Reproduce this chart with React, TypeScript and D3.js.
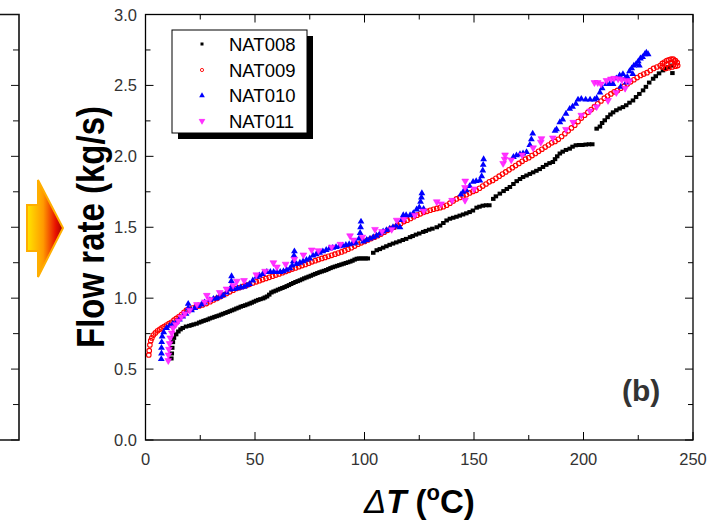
import React from 'react';
import * as d3 from 'd3';

// values: [ΔT (°C), flow rate (kg/s)]
const NAT008: [number, number][] = [
  [11.8, 0.575], [12, 0.61], [12.2, 0.65], [12.5, 0.69], [13, 0.72], [14, 0.745], [15, 0.765], [16, 0.78],
  [17, 0.79], [18.5, 0.8], [20, 0.805], [21, 0.81], [22, 0.815], [23.3, 0.82], [24.5, 0.828], [25.5, 0.834],
  [26.5, 0.84], [27.5, 0.845], [28.5, 0.85], [29.4, 0.857], [30.5, 0.862], [31.5, 0.868], [32.5, 0.873],
  [33.5, 0.878], [34.5, 0.884], [35.4, 0.89], [36.5, 0.896], [37.5, 0.902], [38.5, 0.908], [39.5, 0.914],
  [40.5, 0.92], [41.5, 0.927], [42.5, 0.933], [43.5, 0.94], [44.5, 0.945], [45.5, 0.95], [46.5, 0.956],
  [47.6, 0.962], [48.5, 0.968], [49.5, 0.975], [50.5, 0.982], [51.5, 0.988], [52.5, 0.993], [53.7, 0.998],
  [54.5, 1.005], [55.5, 1.012], [56.5, 1.025], [57.5, 1.04], [58.5, 1.047], [59.5, 1.053], [60.5, 1.06],
  [61.5, 1.066], [62.5, 1.072], [63.5, 1.078], [64.5, 1.085], [65.5, 1.092], [66.5, 1.1], [67.5, 1.107],
  [68.5, 1.114], [69.5, 1.12], [70.5, 1.126], [71.5, 1.133], [72.5, 1.14], [73.5, 1.146], [74.5, 1.152],
  [75.5, 1.158], [76.5, 1.165], [77.5, 1.171], [78.5, 1.177], [79.5, 1.183], [80.5, 1.188], [81.5, 1.193],
  [82.5, 1.198], [83.5, 1.205], [84.5, 1.212], [85.5, 1.218], [86.5, 1.223], [87.5, 1.228], [88.5, 1.233],
  [89.5, 1.238], [90.5, 1.243], [91.5, 1.248], [92.5, 1.253], [93.5, 1.258], [94.5, 1.264], [95.5, 1.272],
  [96.5, 1.278], [97.5, 1.28], [98.5, 1.28], [99.5, 1.28], [100.5, 1.28], [101.5, 1.28], [104, 1.32],
  [105.6, 1.338], [107, 1.346], [108.5, 1.356], [110, 1.366], [111.5, 1.376], [113, 1.385], [114.5, 1.393],
  [116, 1.401], [117.5, 1.41], [119, 1.418], [120.8, 1.43], [122, 1.438], [123.5, 1.448], [125, 1.456],
  [126.8, 1.467], [128, 1.474], [129.5, 1.483], [131, 1.49], [133, 1.5], [134.5, 1.512], [136, 1.53],
  [137.5, 1.548], [139, 1.56], [140.5, 1.567], [142, 1.574], [143.5, 1.582], [145, 1.59], [146.5, 1.598],
  [148, 1.607], [149.5, 1.618], [151.2, 1.638], [152.5, 1.645], [154, 1.652], [155.5, 1.655], [157, 1.655],
  [158.8, 1.7], [160, 1.718], [161.8, 1.737], [163.5, 1.755], [165, 1.77], [166.4, 1.784], [168, 1.805],
  [169.5, 1.825], [171, 1.84], [172.4, 1.854], [174, 1.865], [175.5, 1.876], [177, 1.887], [178.5, 1.898],
  [180, 1.91], [181.5, 1.925], [183, 1.94], [184.5, 1.952], [186, 1.96], [187, 1.98], [188, 2.0], [189.2, 2.02],
  [190.5, 2.033], [192, 2.045], [193.7, 2.054], [195, 2.068], [196.5, 2.078], [198, 2.08], [199.5, 2.08],
  [201, 2.083], [202.5, 2.085], [204, 2.085], [206, 2.195], [207.5, 2.21], [208.5, 2.235], [209.7, 2.254],
  [211, 2.276], [212.3, 2.295], [213.5, 2.31], [215, 2.325], [216.5, 2.337], [218, 2.347], [219.5, 2.36],
  [221, 2.378], [222.6, 2.394], [224, 2.418], [225.5, 2.44], [227.2, 2.465], [228.5, 2.49], [230, 2.52],
  [231.8, 2.547], [233, 2.565], [234.5, 2.585], [236.3, 2.606], [237.5, 2.618], [238.8, 2.63], [240.1, 2.64],
  [240.6, 2.587],
];

const NAT009: [number, number][] = [
  [1.5, 0.6], [1.7, 0.63], [2, 0.67], [2.4, 0.7], [2.9, 0.72], [3.6, 0.74], [4.5, 0.755], [5.5, 0.77],
  [6.5, 0.78], [7.5, 0.79], [8.5, 0.8], [9.6, 0.81], [10.7, 0.82], [11.8, 0.83], [13, 0.845], [14.1, 0.857],
  [15.3, 0.87], [16.5, 0.885], [17.6, 0.9], [18.7, 0.915], [20, 0.922], [21.5, 0.93], [23, 0.938],
  [24.5, 0.945], [26, 0.952], [27.8, 0.962], [29.5, 0.975], [31, 0.987], [32.5, 0.998], [34, 1.01],
  [35.5, 1.022], [37, 1.033], [38.5, 1.045], [40, 1.056], [41.5, 1.068], [43, 1.075], [44.5, 1.083],
  [46, 1.09], [47.5, 1.098], [49, 1.107], [50.6, 1.115], [52, 1.123], [53.5, 1.131], [55, 1.139],
  [56.5, 1.147], [58, 1.155], [59.5, 1.163], [61, 1.171], [62.5, 1.18], [64, 1.188], [65.5, 1.196],
  [67, 1.205], [68.5, 1.213], [70, 1.222], [71.5, 1.23], [73, 1.238], [74.5, 1.247], [76, 1.256],
  [77.5, 1.264], [79, 1.272], [80.5, 1.28], [82, 1.287], [83.5, 1.295], [85, 1.302], [86.5, 1.31],
  [88, 1.318], [89.5, 1.326], [91, 1.335], [92.5, 1.345], [94, 1.356], [95.5, 1.367], [97, 1.38],
  [98.5, 1.39], [100, 1.4], [101.5, 1.41], [103, 1.42], [104.5, 1.43], [106, 1.44], [107.5, 1.452],
  [109, 1.465], [110.5, 1.478], [112, 1.49], [113.5, 1.5], [115, 1.513], [116.5, 1.526], [118, 1.54],
  [119.5, 1.55], [121, 1.562], [122.5, 1.574], [124, 1.585], [125.5, 1.595], [127, 1.605], [128.5, 1.612],
  [130, 1.62], [131.5, 1.627], [133, 1.633], [134.5, 1.638], [136, 1.645], [137.5, 1.655], [139, 1.67],
  [140.5, 1.685], [142, 1.7], [143.5, 1.71], [145, 1.72], [146.5, 1.73], [148, 1.742], [149.5, 1.752],
  [151, 1.76], [152.5, 1.775], [154, 1.79], [155.5, 1.805], [157, 1.82], [158.5, 1.83], [160, 1.845],
  [161.5, 1.86], [163, 1.875], [164.5, 1.89], [166, 1.905], [167.5, 1.92], [169, 1.935], [170.5, 1.95],
  [172, 1.965], [173.5, 1.98], [175, 1.99], [176.5, 2.005], [178, 2.02], [179.5, 2.035], [181, 2.05],
  [182.5, 2.065], [184, 2.08], [185.5, 2.095], [187, 2.105], [188.5, 2.12], [190, 2.14], [191.5, 2.16],
  [193, 2.18], [194.5, 2.2], [196, 2.22], [197.5, 2.245], [199, 2.27], [200.5, 2.29], [202, 2.31],
  [203.5, 2.33], [205, 2.35], [206.5, 2.37], [208, 2.39], [209.5, 2.41], [211, 2.425], [212.5, 2.44],
  [214, 2.455], [215.5, 2.465], [217, 2.48], [218.5, 2.495], [220, 2.51], [221.5, 2.525], [223, 2.54],
  [224.5, 2.555], [226, 2.57], [227.5, 2.58], [229, 2.59], [230.5, 2.605], [232, 2.62], [233.5, 2.63],
  [235, 2.64], [236, 2.655], [237, 2.665], [238, 2.675], [239, 2.68], [240, 2.685], [241, 2.685],
  [242, 2.675], [242.8, 2.66], [243, 2.64], [242, 2.635], [240.5, 2.63], [239, 2.625], [237.5, 2.62],
  [236, 2.63], [238, 2.65], [240, 2.66], [241.5, 2.67],
];

const NAT010: [number, number][] = [
  [7.2, 0.57], [7.3, 0.61], [7.3, 0.65], [7.4, 0.69], [7.6, 0.73], [8.3, 0.76], [9.6, 0.79], [11, 0.805],
  [12.5, 0.82], [14.1, 0.833], [15.5, 0.85], [17, 0.87], [18.5, 0.89], [19.5, 0.93], [19.5, 0.96],
  [21, 0.915], [22.5, 0.93], [24, 0.945], [25.5, 0.955], [27, 0.97], [29.4, 0.986], [31, 0.995], [32.5, 1.0],
  [34, 1.01], [35.5, 1.02], [37, 1.04], [38.5, 1.06], [39.2, 1.08], [39.2, 1.12], [39.3, 1.155],
  [40.5, 1.065], [42, 1.07], [43.5, 1.075], [45, 1.08], [46.3, 1.09], [47.5, 1.1], [49, 1.125], [50.8, 1.15],
  [52, 1.16], [53.5, 1.17], [55.4, 1.185], [57, 1.185], [58.5, 1.185], [60, 1.185], [61.5, 1.185],
  [63, 1.19], [64.5, 1.2], [66, 1.21], [67, 1.23], [67.5, 1.26], [67.8, 1.3], [68, 1.33], [69, 1.24],
  [70.5, 1.25], [72, 1.26], [73.5, 1.27], [75, 1.28], [76.5, 1.3], [78, 1.31], [79.5, 1.32], [81, 1.33],
  [82.5, 1.34], [84, 1.35], [85.5, 1.355], [87, 1.36], [88.5, 1.365], [90, 1.37], [91.5, 1.375], [93, 1.38],
  [94.5, 1.385], [96, 1.39], [97.5, 1.42], [98, 1.46], [98.2, 1.5], [98.4, 1.54], [99.5, 1.4], [101, 1.41],
  [102.5, 1.42], [104, 1.43], [105.5, 1.44], [107, 1.455], [108.5, 1.47], [110, 1.48], [111.5, 1.49],
  [113, 1.5], [114.5, 1.51], [116.2, 1.5], [117, 1.55], [117.7, 1.585], [119, 1.585], [120.8, 1.585],
  [122.3, 1.6], [123.8, 1.625], [125, 1.64], [125.6, 1.68], [126, 1.71], [126.2, 1.74], [127, 1.63],
  [144, 1.73], [145.1, 1.75], [146.5, 1.76], [148, 1.79], [149.6, 1.82], [151, 1.825], [152.7, 1.83],
  [153.5, 1.86], [154, 1.9], [154.2, 1.94], [154.4, 1.98], [168, 1.995], [169.4, 2.007], [171, 2.015],
  [172.4, 2.02], [174, 2.03], [175.5, 2.08], [176.2, 2.12], [176.8, 2.16], [187, 2.18], [187.7, 2.19],
  [189.2, 2.24], [190.5, 2.26], [192, 2.3], [193.7, 2.335], [195, 2.35], [196.5, 2.37], [197.5, 2.4],
  [199, 2.405], [201, 2.4], [203, 2.4], [205, 2.4], [206, 2.41], [207.5, 2.45], [208.5, 2.48], [210.5, 2.51],
  [212, 2.51], [213.5, 2.51], [215, 2.55], [216.5, 2.57], [218, 2.58], [219, 2.55], [220, 2.56], [221, 2.6],
  [222, 2.62], [223, 2.64], [224, 2.65], [225, 2.67], [226, 2.69], [227, 2.7], [228, 2.72], [228.7, 2.73],
  [229.5, 2.72], [217, 2.49], [219.5, 2.52], [222.5, 2.58], [225.5, 2.64],
];

const NAT011: [number, number][] = [
  [10.4, 0.56], [10.5, 0.6], [10.7, 0.64], [11, 0.68], [11.3, 0.72], [12, 0.755], [12.6, 0.79],
  [13.8, 0.815], [15, 0.84], [16.4, 0.868], [18, 0.89], [20.2, 0.915], [23.5, 0.955], [27.1, 0.974],
  [28, 1.02], [29.5, 0.99], [33.9, 1.04], [37, 1.065], [40, 1.09], [41.7, 1.12], [45, 1.125], [50.6, 1.165],
  [54.6, 1.19], [58.4, 1.25], [60, 1.22], [64, 1.24], [68, 1.275], [72.1, 1.305], [75.9, 1.34], [79, 1.335],
  [85, 1.36], [89, 1.38], [93.4, 1.44], [95, 1.41], [99, 1.43], [104.8, 1.485], [108, 1.47], [112.4, 1.485],
  [114.7, 1.55], [118, 1.555], [123, 1.585], [127, 1.615], [133, 1.68], [135, 1.665], [140, 1.69],
  [145.9, 1.69], [145.9, 1.78], [146, 1.826], [150, 1.77], [163.3, 1.95], [164, 1.98], [164.2, 2.01],
  [167, 1.975], [172, 2.01], [177, 2.06], [180.5, 2.1], [180.8, 2.125], [186, 2.13], [192, 2.19],
  [195.3, 2.24], [199, 2.29], [203, 2.32], [206, 2.35], [211.2, 2.394], [215, 2.45], [219, 2.48], [205, 2.52],
  [206.5, 2.52], [208, 2.51], [210.5, 2.535], [212.5, 2.545], [214, 2.55], [215.8, 2.547], [217.5, 2.54],
  [219.6, 2.535], [221, 2.53],
];

const X_TICKS = [0, 50, 100, 150, 200, 250];
const X_MINOR = [25, 75, 125, 175, 225];
const Y_TICKS = [0, 0.5, 1, 1.5, 2, 2.5, 3];
const Y_MINOR = [0.25, 0.75, 1.25, 1.75, 2.25, 2.75];
const SERIES_NAMES = ['NAT008', 'NAT009', 'NAT010', 'NAT011'];

const FONT = '"Liberation Sans", Arial, Helvetica, sans-serif';
const W = 723, H = 520;
const L = 145.5, R = 693, T = 14.5, B = 440;

const x = d3.scaleLinear().domain([0, 250]).range([L, R]);
const y = d3.scaleLinear().domain([0, 3]).range([B, T]);

const triUp = d3.symbol().type(d3.symbolTriangle).size(20)() as string;
const triSmall = d3.symbol().type(d3.symbolTriangle).size(14)() as string;

// marker for one point
const Marker = ({ i, cx, cy, small = false }: { i: number; cx: number; cy: number; small?: boolean }) => {
  if (i === 0) {
    const w = small ? 3 : 4.5, h = small ? 3 : 4;
    return <rect x={cx - w / 2} y={cy - h / 2} width={w} height={h} fill="#000" />;
  }
  if (i === 1) {
    return <circle cx={cx} cy={cy} r={small ? 1.6 : 2.3} fill="none" stroke="#ff0000" strokeWidth={small ? 0.9 : 1.1} />;
  }
  const p = small ? triSmall : triUp;
  if (i === 2) return <path d={p} transform={`translate(${cx},${cy})`} fill="#0000ff" />;
  return <path d={p} transform={`translate(${cx},${cy}) rotate(180)`} fill="#ff33ff" stroke="#ff00ff" strokeWidth={0.5} />;
};

export default function App() {
  const series = [NAT008, NAT009, NAT010, NAT011];
  const legendRows = [44, 70, 95.5, 121];

  return (
    <svg width={W} height={H} style={{ position: 'absolute', left: 0, top: 0, background: '#fff' }} fontFamily={FONT}>
      <defs>
        <linearGradient id="arrowGrad" x1="0" x2="1" y1="0" y2="0">
          <stop offset="0%" stopColor="#ffe600" />
          <stop offset="45%" stopColor="#ff9a00" />
          <stop offset="80%" stopColor="#e81000" />
          <stop offset="100%" stopColor="#a00000" />
        </linearGradient>
        <clipPath id="plotClip">
          <rect x={L} y={T} width={R - L} height={B - T} />
        </clipPath>
      </defs>
      <rect width={W} height={H} fill="#fff" />

      {/* piece of the neighbouring panel */}
      <g stroke="#111" strokeWidth={1.6} fill="none">
        <path d={`M0,${T}H19V${B}H0`} />
        {Y_TICKS.map(v => <line key={'lp' + v} x1={19} x2={11} y1={y(v)} y2={y(v)} strokeWidth={1} />)}
        {Y_MINOR.map(v => <line key={'lm' + v} x1={19} x2={13} y1={y(v)} y2={y(v)} strokeWidth={1} />)}
      </g>

      {/* arrow */}
      <polygon
        points="27,205 38,205 38,180 63,228 38,277 38,251 27,251"
        fill="url(#arrowGrad)"
        stroke="#ffae00"
        strokeWidth={2}
        strokeLinejoin="miter"
      />

      {/* data */}
      <g clipPath="url(#plotClip)">
        {series.map((data, i) => (
          <g key={SERIES_NAMES[i]}>
            {data.map(([a, b], j) => <Marker key={j} i={i} cx={x(a)} cy={y(b)} />)}
          </g>
        ))}
      </g>

      {/* frame and ticks */}
      <rect x={L} y={T} width={R - L} height={B - T} fill="none" stroke="#000" strokeWidth={1.3} />
      <g stroke="#000" strokeWidth={1}>
        {X_TICKS.map(v => (
          <g key={'xt' + v}>
            <line x1={x(v)} x2={x(v)} y1={B} y2={B - 8} />
            <line x1={x(v)} x2={x(v)} y1={T} y2={T + 8} />
          </g>
        ))}
        {X_MINOR.map(v => (
          <g key={'xm' + v}>
            <line x1={x(v)} x2={x(v)} y1={B} y2={B - 5} />
            <line x1={x(v)} x2={x(v)} y1={T} y2={T + 5} />
          </g>
        ))}
        {Y_TICKS.map(v => (
          <g key={'yt' + v}>
            <line x1={L} x2={L + 8} y1={y(v)} y2={y(v)} />
            <line x1={R} x2={R - 8} y1={y(v)} y2={y(v)} />
          </g>
        ))}
        {Y_MINOR.map(v => (
          <g key={'ym' + v}>
            <line x1={L} x2={L + 5} y1={y(v)} y2={y(v)} />
            <line x1={R} x2={R - 5} y1={y(v)} y2={y(v)} />
          </g>
        ))}
      </g>

      {/* tick labels */}
      <g fill="#333" fontSize={16.5}>
        {X_TICKS.map(v => (
          <text key={'xl' + v} x={x(v)} y={465} textAnchor="middle">{v}</text>
        ))}
        {Y_TICKS.map(v => (
          <text key={'yl' + v} x={137} y={y(v)} textAnchor="end" dominantBaseline="central">{v.toFixed(1)}</text>
        ))}
      </g>

      {/* axis titles */}
      <text
        transform={`translate(104,227) rotate(-90) scale(1,1.2)`}
        textAnchor="middle"
        fontSize={33}
        fontWeight="bold"
        fill="#000"
      >
        Flow rate (kg/s)
      </text>
      <text x={364} y={513} fontSize={33} fill="#000">
        <tspan fontStyle="italic">Δ</tspan>
        <tspan fontStyle="italic" fontWeight="bold">T</tspan>
        <tspan fontWeight="bold"> (</tspan>
        <tspan fontWeight="bold" fontSize={22} dy={-13}>o</tspan>
        <tspan fontWeight="bold" dy={13}>C)</tspan>
      </text>

      <text x={622} y={401} fontSize={30} fontWeight="bold" fill="#333">(b)</text>

      {/* legend */}
      <rect x={178} y={36} width={135} height={103} fill="#000" />
      <rect x={172} y={30} width={135} height={103} fill="#fff" stroke="#000" strokeWidth={1} />
      {SERIES_NAMES.map((name, i) => (
        <g key={'lg' + name}>
          <Marker i={i} cx={202} cy={legendRows[i]} small />
          <text x={229} y={legendRows[i]} dominantBaseline="central" fontSize={18.5} fill="#000">{name}</text>
        </g>
      ))}
    </svg>
  );
}
